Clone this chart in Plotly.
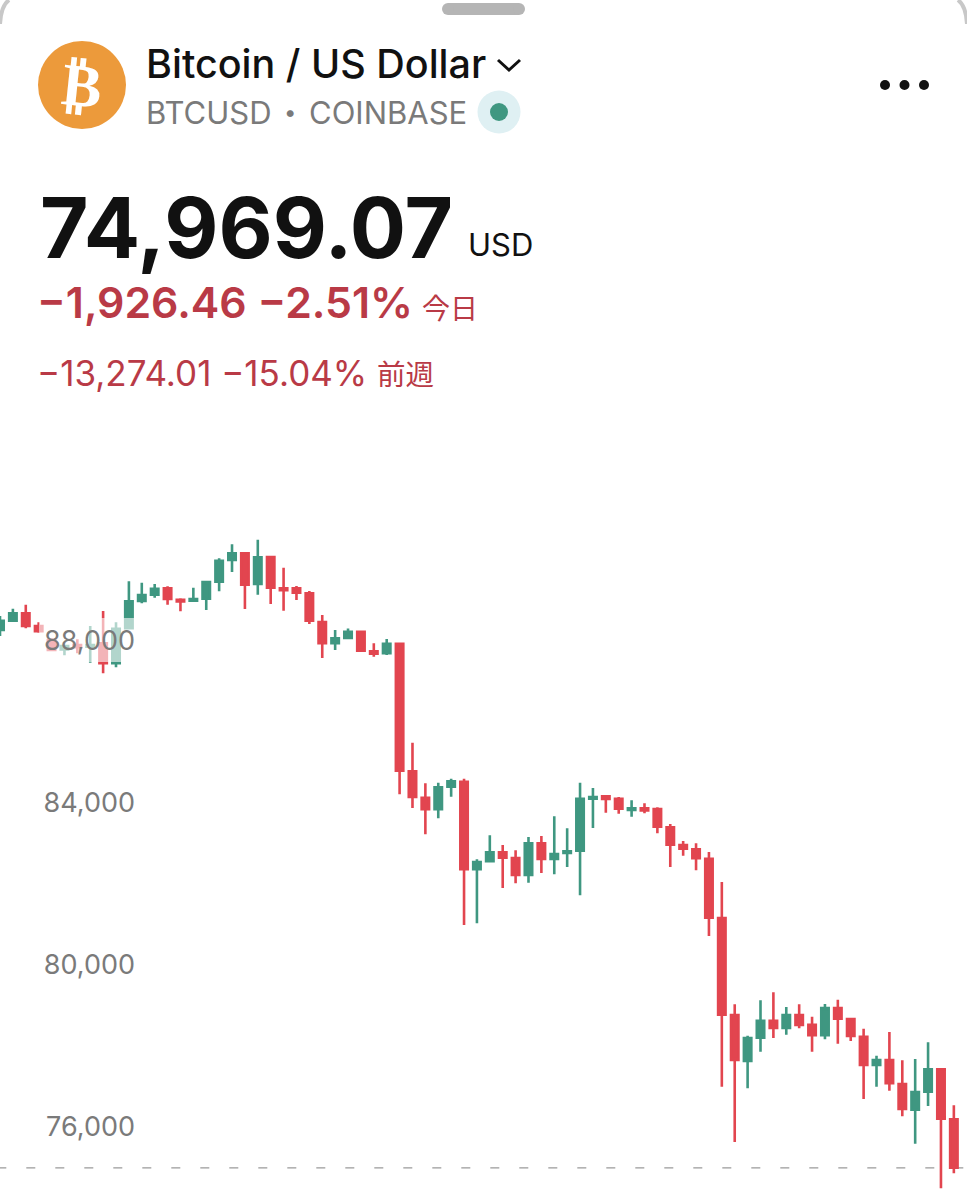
import plotly.graph_objects as go

W = 967
H = 1200

# values
opens = [88247, 88477, 88659, 88346, 88000, 87770, 87877, 87835, 87919, 87425,
         88289, 88963, 89118, 89276, 88995, 88970, 89020, 89439, 89975, 90141,
         89383, 90049, 89276, 89276, 89153, 88444, 87919, 88049, 88205, 87721,
         87672, 87909, 84758, 84106, 83820, 84378, 84501, 82339, 82536, 82758,
         82618, 82198, 82981, 82593, 82741, 82798, 84082, 84141, 84082, 83803,
         83845, 83827, 83375, 82938, 82832, 82600, 81136, 78741, 77605, 78181,
         78601, 78420, 78741, 78502, 78240, 78914, 78642, 78206, 77507, 77630,
         77038, 76403, 76848, 77401, 76166]
highs = [88593, 88773, 88872, 88437, 88042, 87877, 88017, 88346, 88716, 88437,
         89449, 89415, 89383, 89326, 89030, 89291, 89432, 90017, 90363, 90148,
         90476, 90074, 89785, 89333, 89210, 88617, 88247, 88284, 88230, 87919,
         88025, 87926, 85464, 84462, 84477, 84576, 84576, 82585, 83178, 82938,
         82808, 83136, 83161, 83647, 83351, 84477, 84346, 84173, 84124, 84042,
         83968, 83869, 83457, 83037, 82981, 82766, 82025, 79006, 78230, 79104,
         79302, 78939, 79006, 78699, 79013, 79119, 78660, 78403, 77736, 78321,
         77623, 77655, 78067, 77433, 76512]
lows = [88099, 88444, 88289, 88180, 87736, 87622, 87672, 87440, 87178, 87326,
        88289, 88906, 89044, 88872, 88709, 88970, 88741, 89202, 89679, 88765,
        89118, 88889, 88723, 88988, 88395, 87556, 87753, 88025, 87711, 87588,
        87630, 84190, 83852, 83203, 83598, 84131, 80963, 81005, 82536, 81877,
        81993, 82008, 82247, 82215, 82395, 81697, 83358, 83736, 83711, 83637,
        83721, 83227, 82395, 82674, 82314, 80692, 76971, 75606, 76931, 77835,
        78173, 78255, 78413, 77835, 78141, 78033, 78099, 76667, 76971, 76872,
        76240, 75564, 76495, 74462, 74833]
closes = [88477, 88659, 88346, 88215, 87753, 87852, 87820, 87877, 87425, 88279,
          88955, 89111, 89267, 89012, 88955, 89012, 89432, 89958, 90141, 89365,
          90042, 89291, 89227, 89168, 88477, 87919, 88042, 88205, 87736, 87662,
          87909, 84773, 84124, 83820, 84363, 84511, 82339, 82519, 82758, 82625,
          82198, 82981, 82593, 82716, 82783, 84082, 84124, 84074, 83835, 83845,
          83795, 83390, 82946, 82847, 82610, 81144, 78749, 77630, 78173, 78601,
          78420, 78741, 78494, 78240, 78914, 78650, 78223, 77507, 77630, 77055,
          76420, 76840, 77401, 76181, 74969]
candle_pos = list(range(len(opens)))

price_ticks = [88000, 84000, 80000, 76000]
price_labels = ["88,000", "84,000", "80,000", "76,000"]
last_price = 74969.07

RED = "#E2454F"
GREEN = "#3F9781"
TEXT_RED = "#B93A46"
GRAY = "#7A7A7A"
CJK = "Noto Sans CJK JP"
UI = "Inter"


def fx(x):
    return x / W


def fy(y):
    return 1 - y / H


def circle(cx, cy, r, color):
    return dict(type="circle", xref="paper", yref="paper", layer="above",
                x0=fx(cx - r), x1=fx(cx + r), y0=fy(cy + r), y1=fy(cy - r),
                fillcolor=color, line_width=0)


def label(x, y, text, size, color, font=UI, weight=400, anchor="left", angle=0):
    return dict(xref="paper", yref="paper", x=fx(x), y=fy(y), text=text,
                showarrow=False, xanchor=anchor, yanchor="middle", textangle=angle,
                borderpad=0, borderwidth=0,
                font=dict(family=font, size=size, color=color, weight=weight))


fig = go.Figure(go.Candlestick(
    x=candle_pos, open=opens, high=highs, low=lows, close=closes,
    whiskerwidth=0,
    increasing=dict(line=dict(color=GREEN, width=2.6), fillcolor=GREEN),
    decreasing=dict(line=dict(color=RED, width=2.6), fillcolor=RED),
    showlegend=False,
))

shapes = [
    # last price line
    dict(type="line", xref="paper", yref="y", x0=fx(-2.7), x1=1, y0=last_price, y1=last_price,
         layer="below", line=dict(color="#9A9A9A", width=1.2, dash="9px,20px")),
    # grabber
    dict(type="line", xref="paper", yref="paper", layer="above",
         x0=fx(448), x1=fx(519), y0=fy(9), y1=fy(9), line=dict(color="#B5B5B5", width=12)),
    circle(442 + 6, 9, 6, "#B5B5B5"),
    circle(525 - 6, 9, 6, "#B5B5B5"),
    circle(82, 85, 44, "#EC9A3B"),
    circle(499, 112, 21.5, "#DFF0F3"),
    circle(499, 112, 9, "#3F9781"),
    circle(885, 85, 5, "#111111"),
    circle(904.5, 85, 5, "#111111"),
    circle(924, 85, 5, "#111111"),
    # chevron
    dict(type="path", xref="paper", yref="paper", layer="above",
         path=f"M {fx(498)} {fy(60)} L {fx(509)} {fy(70)} L {fx(520)} {fy(60)}",
         line=dict(color="#111111", width=3)),
    # card corners
    dict(type="path", xref="paper", yref="paper", layer="above",
         path=f"M {fx(0)} {fy(24)} Q {fx(1)} {fy(6)} {fx(9)} {fy(0)}",
         line=dict(color="#C8C8C8", width=4)),
    dict(type="path", xref="paper", yref="paper", layer="above",
         path=f"M {fx(967)} {fy(24)} Q {fx(966)} {fy(6)} {fx(958)} {fy(0)}",
         line=dict(color="#C8C8C8", width=4)),
]

annotations = [
    label(82, 85, "₿", 60, "white", font="DejaVu Sans", weight=700, anchor="center", angle=6),
    label(146, 64, "Bitcoin / US Dollar", 39.5, "#111111", weight=500),
    label(146, 112, "BTCUSD", 31, GRAY),
    label(290, 112, "•", 22, GRAY, anchor="center"),
    label(309, 112, "COINBASE", 31, GRAY),
    label(40, 228, "74,969.07", 83.5, "#111111", weight=700),
    label(468, 244, "USD", 31, "#111111"),
    label(37, 303, "−1,926.46 −2.51%", 42.8, TEXT_RED, weight=600),
    label(422, 307, "今日", 28, TEXT_RED, font=CJK),
    label(37, 373, "−13,274.01 −15.04%", 35, TEXT_RED),
    label(377, 373, "前週", 28.5, TEXT_RED, font=CJK),
]

# price labels sit on a translucent plate over the candles
for tick, text in zip(price_ticks, price_labels):
    annotations.append(dict(
        xref="paper", yref="y", x=fx(135), y=tick, text=text, showarrow=False,
        xanchor="right", yanchor="middle", align="right", width=96, height=44,
        bgcolor="rgba(255,255,255,0.6)", borderpad=0, borderwidth=0,
        font=dict(family=UI, size=27, color=GRAY),
    ))

fig.update_layout(
    width=W, height=H,
    margin=dict(l=0, r=0, t=0, b=0),
    paper_bgcolor="white", plot_bgcolor="white",
    boxgap=0.36, boxgroupgap=0.1,
    xaxis=dict(range=[0, 75.02], visible=False, rangeslider=dict(visible=False), fixedrange=True),
    yaxis=dict(range=[74174, 103802], visible=False, fixedrange=True),
    shapes=shapes, annotations=annotations,
)

fig.write_html("out.html", config=dict(displayModeBar=False),
               post_script="document.body.style.margin='0';document.body.style.overflow='hidden';")
